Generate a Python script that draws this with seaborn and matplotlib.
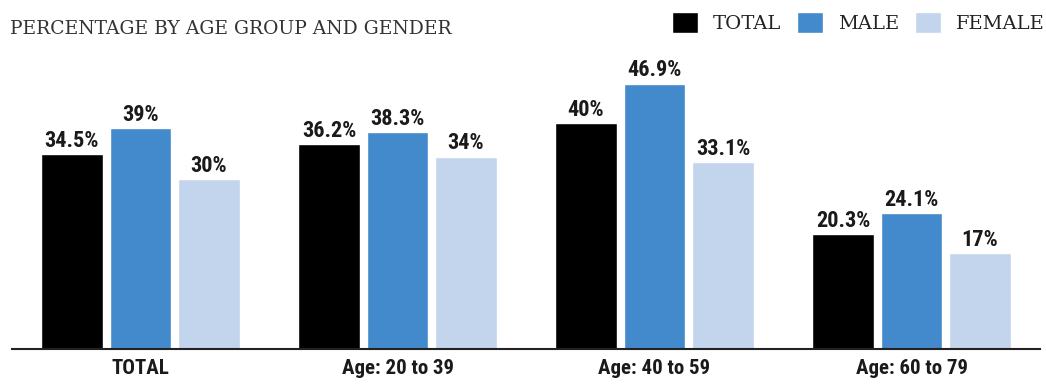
import matplotlib
matplotlib.use("Agg")
import matplotlib.pyplot as plt
import seaborn as sns
import pandas as pd

# Share of each group, in percent
groups = ["TOTAL", "Age: 20 to 39", "Age: 40 to 59", "Age: 60 to 79"]
series = ["TOTAL", "MALE", "FEMALE"]
total_vals = [34.5, 36.2, 40.0, 20.3]
male_vals = [39.0, 38.3, 46.9, 24.1]
female_vals = [30.0, 34.0, 33.1, 17.0]
colors = ["#000000", "#438acc", "#c3d4ed"]

df = pd.DataFrame({
    "group": groups * 3,
    "series": [s for s in series for _ in groups],
    "value": total_vals + male_vals + female_vals,
})

sns.set_theme(style="white")
label_font = ["Liberation Sans Narrow", "Roboto Condensed", "DejaVu Sans"]
serif_font = ["DejaVu Serif", "Liberation Serif"]

fig = plt.figure(figsize=(10.46, 3.9), dpi=100)
ax = fig.add_axes([12 / 1046, 41 / 390, 1028 / 1046, 349 / 390])

sns.barplot(data=df, x="group", y="value", hue="series", order=groups,
            hue_order=series, palette=colors, width=0.8, gap=0.1,
            saturation=1, ax=ax, legend=True)

ax.set_xlim(-0.5, 3.5)
ax.set_ylim(0, 61.66)
ax.set_xlabel("")
ax.set_ylabel("")
ax.set_yticks([])
for side in ["top", "right", "left"]:
    ax.spines[side].set_visible(False)
ax.spines["bottom"].set_color("#222222")
ax.spines["bottom"].set_linewidth(1.5)
ax.tick_params(axis="x", length=0, pad=7)
for t in ax.get_xticklabels():
    t.set_fontfamily(label_font)
    t.set_fontweight("bold")
    t.set_fontsize(15)
    t.set_color("#1a1a1a")

for cont in ax.containers:
    ax.bar_label(cont, fmt="{:g}%", padding=1.5, fontsize=16,
                 fontweight="bold", family=label_font, color="#1a1a1a")

fig.text(10 / 1046, 1 - 34.5 / 390, "PERCENTAGE BY AGE GROUP AND GENDER",
         family=serif_font, fontsize=13.5, color="#333333", va="baseline")

sns.move_legend(ax, "upper right", bbox_to_anchor=(1045 / 1046, 1 - 12 / 390),
                bbox_transform=fig.transFigure, ncol=3, frameon=False,
                title=None, prop={"family": serif_font, "size": 14},
                handlelength=1.34, handleheight=1.3, columnspacing=0.82,
                handletextpad=0.77, borderaxespad=0, borderpad=0)
for t in ax.get_legend().get_texts():
    t.set_color("#222222")

fig.savefig("out.png", dpi=100)
